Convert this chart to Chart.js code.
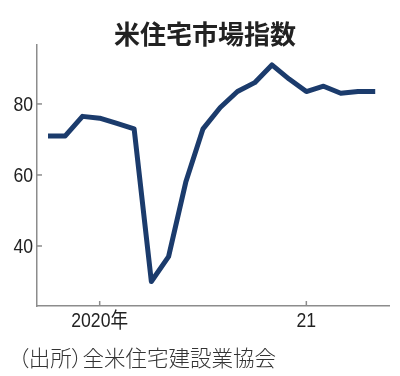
<!DOCTYPE html>
<html>
<head>
<meta charset="utf-8">
<script src="https://cdn.jsdelivr.net/npm/chart.js@4"></script>
<style>
  body { margin: 0; background: #fff; }
  #wrap { position: relative; width: 400px; height: 376px; }
  #title {
    position: absolute; left: 0; width: 410px; top: 16px;
    text-align: center; font: bold 26px 'Noto Sans CJK JP', sans-serif; color: #222;
    line-height: 34px;
  }
  #source {
    position: absolute; left: 18px; top: 342px;
    font: 300 21.5px 'Noto Sans CJK JP', sans-serif; color: #333; line-height: 30px;
    font-feature-settings: "palt";
  }
</style>
</head>
<body>
<div id="wrap">
  <canvas id="chart" width="400" height="376"></canvas>
  <div id="title">米住宅市場指数</div>
  <div id="source">（出所）全米住宅建設業協会</div>
</div>
<script>
// 月次 2019年10月〜2021年5月
const months = ['2019-10', '2019-11', '2019-12', '2020-01', '2020-02', '2020-03', '2020-04', '2020-05',
  '2020-06', '2020-07', '2020-08', '2020-09', '2020-10', '2020-11', '2020-12', '2021-01',
  '2021-02', '2021-03', '2021-04', '2021-05'];
const index = [71, 71, 76.5, 76, 74.5, 73, 30, 37, 58, 73, 79, 83.5, 86, 91, 87, 83.5, 85, 83, 83.5, 83.5];

const xTickPos = [3, 15];
const xTickLabels = ['2020年', '21'];
const yTicks = [40, 60, 80];

const axisColor = '#8c8c8c';
const labelFont = "21px 'Liberation Sans', 'Noto Sans CJK JP', sans-serif";
const squeeze = 0.84;   // narrow figures like the original

// inward tick marks and condensed tick labels on both axes
const axisDecor = {
  id: 'axisDecor',
  afterDraw(chart) {
    const ctx = chart.ctx;
    const x = chart.scales.x, y = chart.scales.y;
    ctx.save();
    ctx.strokeStyle = axisColor;
    ctx.lineWidth = 1.5;
    x.ticks.forEach(t => {
      const px = x.getPixelForValue(t.value);
      ctx.beginPath();
      ctx.moveTo(px, y.bottom);
      ctx.lineTo(px, y.bottom - 5);
      ctx.stroke();
    });
    y.ticks.forEach(t => {
      const py = y.getPixelForValue(t.value);
      ctx.beginPath();
      ctx.moveTo(x.left, py);
      ctx.lineTo(x.left + 5, py);
      ctx.stroke();
    });

    ctx.fillStyle = '#222';
    ctx.font = labelFont;
    ctx.textBaseline = 'middle';
    y.ticks.forEach(t => {
      const py = y.getPixelForValue(t.value);
      ctx.save();
      ctx.translate(x.left - 4, py + 1);
      ctx.scale(squeeze, 1);
      ctx.textAlign = 'right';
      ctx.fillText(String(t.value), 0, 0);
      ctx.restore();
    });
    x.ticks.forEach(t => {
      const px = x.getPixelForValue(t.value);
      ctx.save();
      ctx.translate(px, y.bottom + 15);
      ctx.scale(squeeze, 1);
      ctx.textAlign = 'center';
      ctx.fillText(xTickLabels[xTickPos.indexOf(t.value)], 0, 0);
      ctx.restore();
    });
    ctx.restore();
  }
};

new Chart(document.getElementById('chart'), {
  type: 'line',
  data: {
    datasets: [{
      data: index.map((v, i) => ({ x: i, y: v })),
      borderColor: '#1b3b6c',
      borderWidth: 5,
      borderJoinStyle: 'round',
      borderCapStyle: 'butt',
      pointRadius: 0,
      tension: 0,
      fill: false
    }]
  },
  options: {
    responsive: false,
    animation: false,
    layout: { padding: { top: 45, right: 11, bottom: 36, left: 0 } },
    plugins: { legend: { display: false }, tooltip: { enabled: false } },
    scales: {
      x: {
        type: 'linear',
        min: -0.64,
        max: 19.8,
        afterBuildTicks: s => { s.ticks = xTickPos.map(v => ({ value: v })); },
        afterFit: s => { s.height = 34; },
        grid: { display: false, drawTicks: false },
        border: { display: true, color: axisColor, width: 1.5 },
        ticks: { display: false }
      },
      y: {
        min: 23.1,
        max: 96.6,
        afterBuildTicks: s => { s.ticks = yTicks.map(v => ({ value: v })); },
        afterFit: s => { s.width = 37; },
        grid: { display: false, drawTicks: false },
        border: { display: true, color: axisColor, width: 1.5 },
        ticks: { display: false }
      }
    }
  },
  plugins: [axisDecor]
});
</script>
</body>
</html>
